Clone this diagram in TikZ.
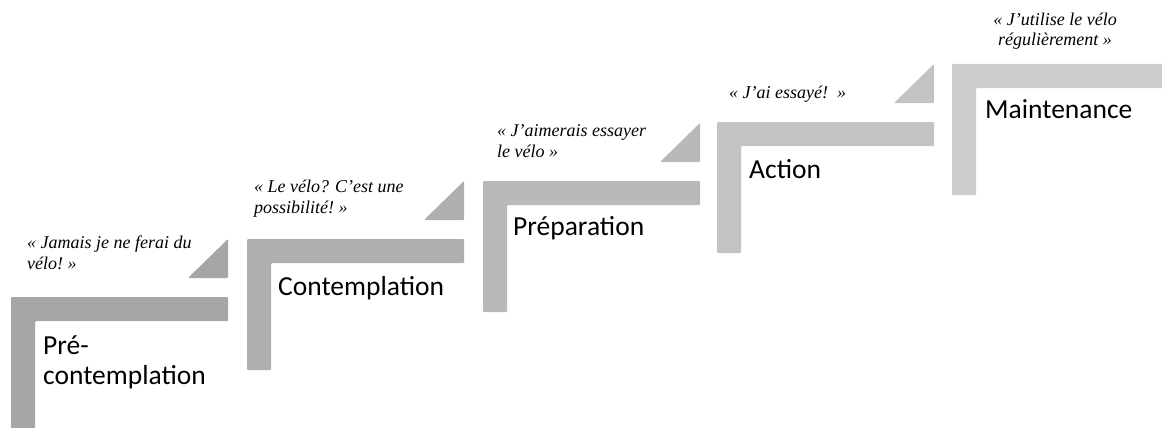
\documentclass[tikz,border=0pt]{standalone}
\usepackage{fontspec}
\setmainfont{Liberation Serif}
\newfontfamily\stagefont{Carlito}

\definecolor{stairA}{HTML}{A6A6A6}
\definecolor{stairB}{HTML}{AFAFAF}
\definecolor{stairC}{HTML}{B9B9B9}
\definecolor{stairD}{HTML}{C3C3C3}
\definecolor{stairE}{HTML}{CDCDCD}

\tikzset{
  stage/.style={font=\stagefont\fontsize{27.5}{30}\selectfont, anchor=base west, inner sep=0pt, align=left},
  saying/.style={font=\itshape\fontsize{18}{20.5}\selectfont, anchor=base west, inner sep=0pt, align=left},
}

\begin{document}
\begin{tikzpicture}[x=1pt,y=-1pt]
    \useasboundingbox (0,0) rectangle (1162,428);
    \clip (0,0) rectangle (1162,428);
    % stairs
    \fill[stairA,rounded corners=1pt] (11,430) -- ++(0,-133) -- ++(217,0) -- ++(0,24) -- ++(-193,0) -- ++(0,109) -- cycle;
    \fill[stairA,rounded corners=1pt] (188,278) -- ++(40,0) -- ++(0,-39) -- cycle;
    \fill[stairB,rounded corners=1pt] (247,370) -- ++(0,-131) -- ++(217,0) -- ++(0,24) -- ++(-193,0) -- ++(0,107) -- cycle;
    \fill[stairB,rounded corners=1pt] (424,220) -- ++(40,0) -- ++(0,-39) -- cycle;
    \fill[stairC,rounded corners=1pt] (483,312) -- ++(0,-131) -- ++(217,0) -- ++(0,24) -- ++(-193,0) -- ++(0,107) -- cycle;
    \fill[stairC,rounded corners=1pt] (660,162) -- ++(40,0) -- ++(0,-39) -- cycle;
    \fill[stairD,rounded corners=1pt] (717,253) -- ++(0,-131) -- ++(217,0) -- ++(0,24) -- ++(-193,0) -- ++(0,107) -- cycle;
    \fill[stairD,rounded corners=1pt] (894,103) -- ++(40,0) -- ++(0,-39) -- cycle;
    \fill[stairE,rounded corners=1pt] (952,195) -- ++(0,-131) -- ++(217,0) -- ++(0,24) -- ++(-193,0) -- ++(0,107) -- cycle;
    % stages (base = last line)
    \node[stage] (precont) at (43,384) {Pré-\\contemplation};
    \node[stage] (cont) at (278,295) {Contemplation};
    \node[stage] (prep) at (513,235) {Préparation};
    \node[stage] (action) at (749,178) {Action};
    \node[stage] (maint) at (985,118) {Maintenance};
    % sayings
    \node[saying] (q1) at (27,269) {«~Jamais je ne ferai du\\vélo!~»};
    \node[saying] (q2) at (254,213) {«~Le vélo? C’est une\\possibilité!~»};
    \node[saying] (q3) at (497,157) {«~J’aimerais essayer\\le vélo~»};
    \node[saying] (q4) at (729,98) {«~J’ai essayé!~~»};
    \node[saying,align=center,anchor=base] (q5) at (1055,46) {«~J’utilise le vélo\\régulièrement~»};
\end{tikzpicture}
\end{document}
